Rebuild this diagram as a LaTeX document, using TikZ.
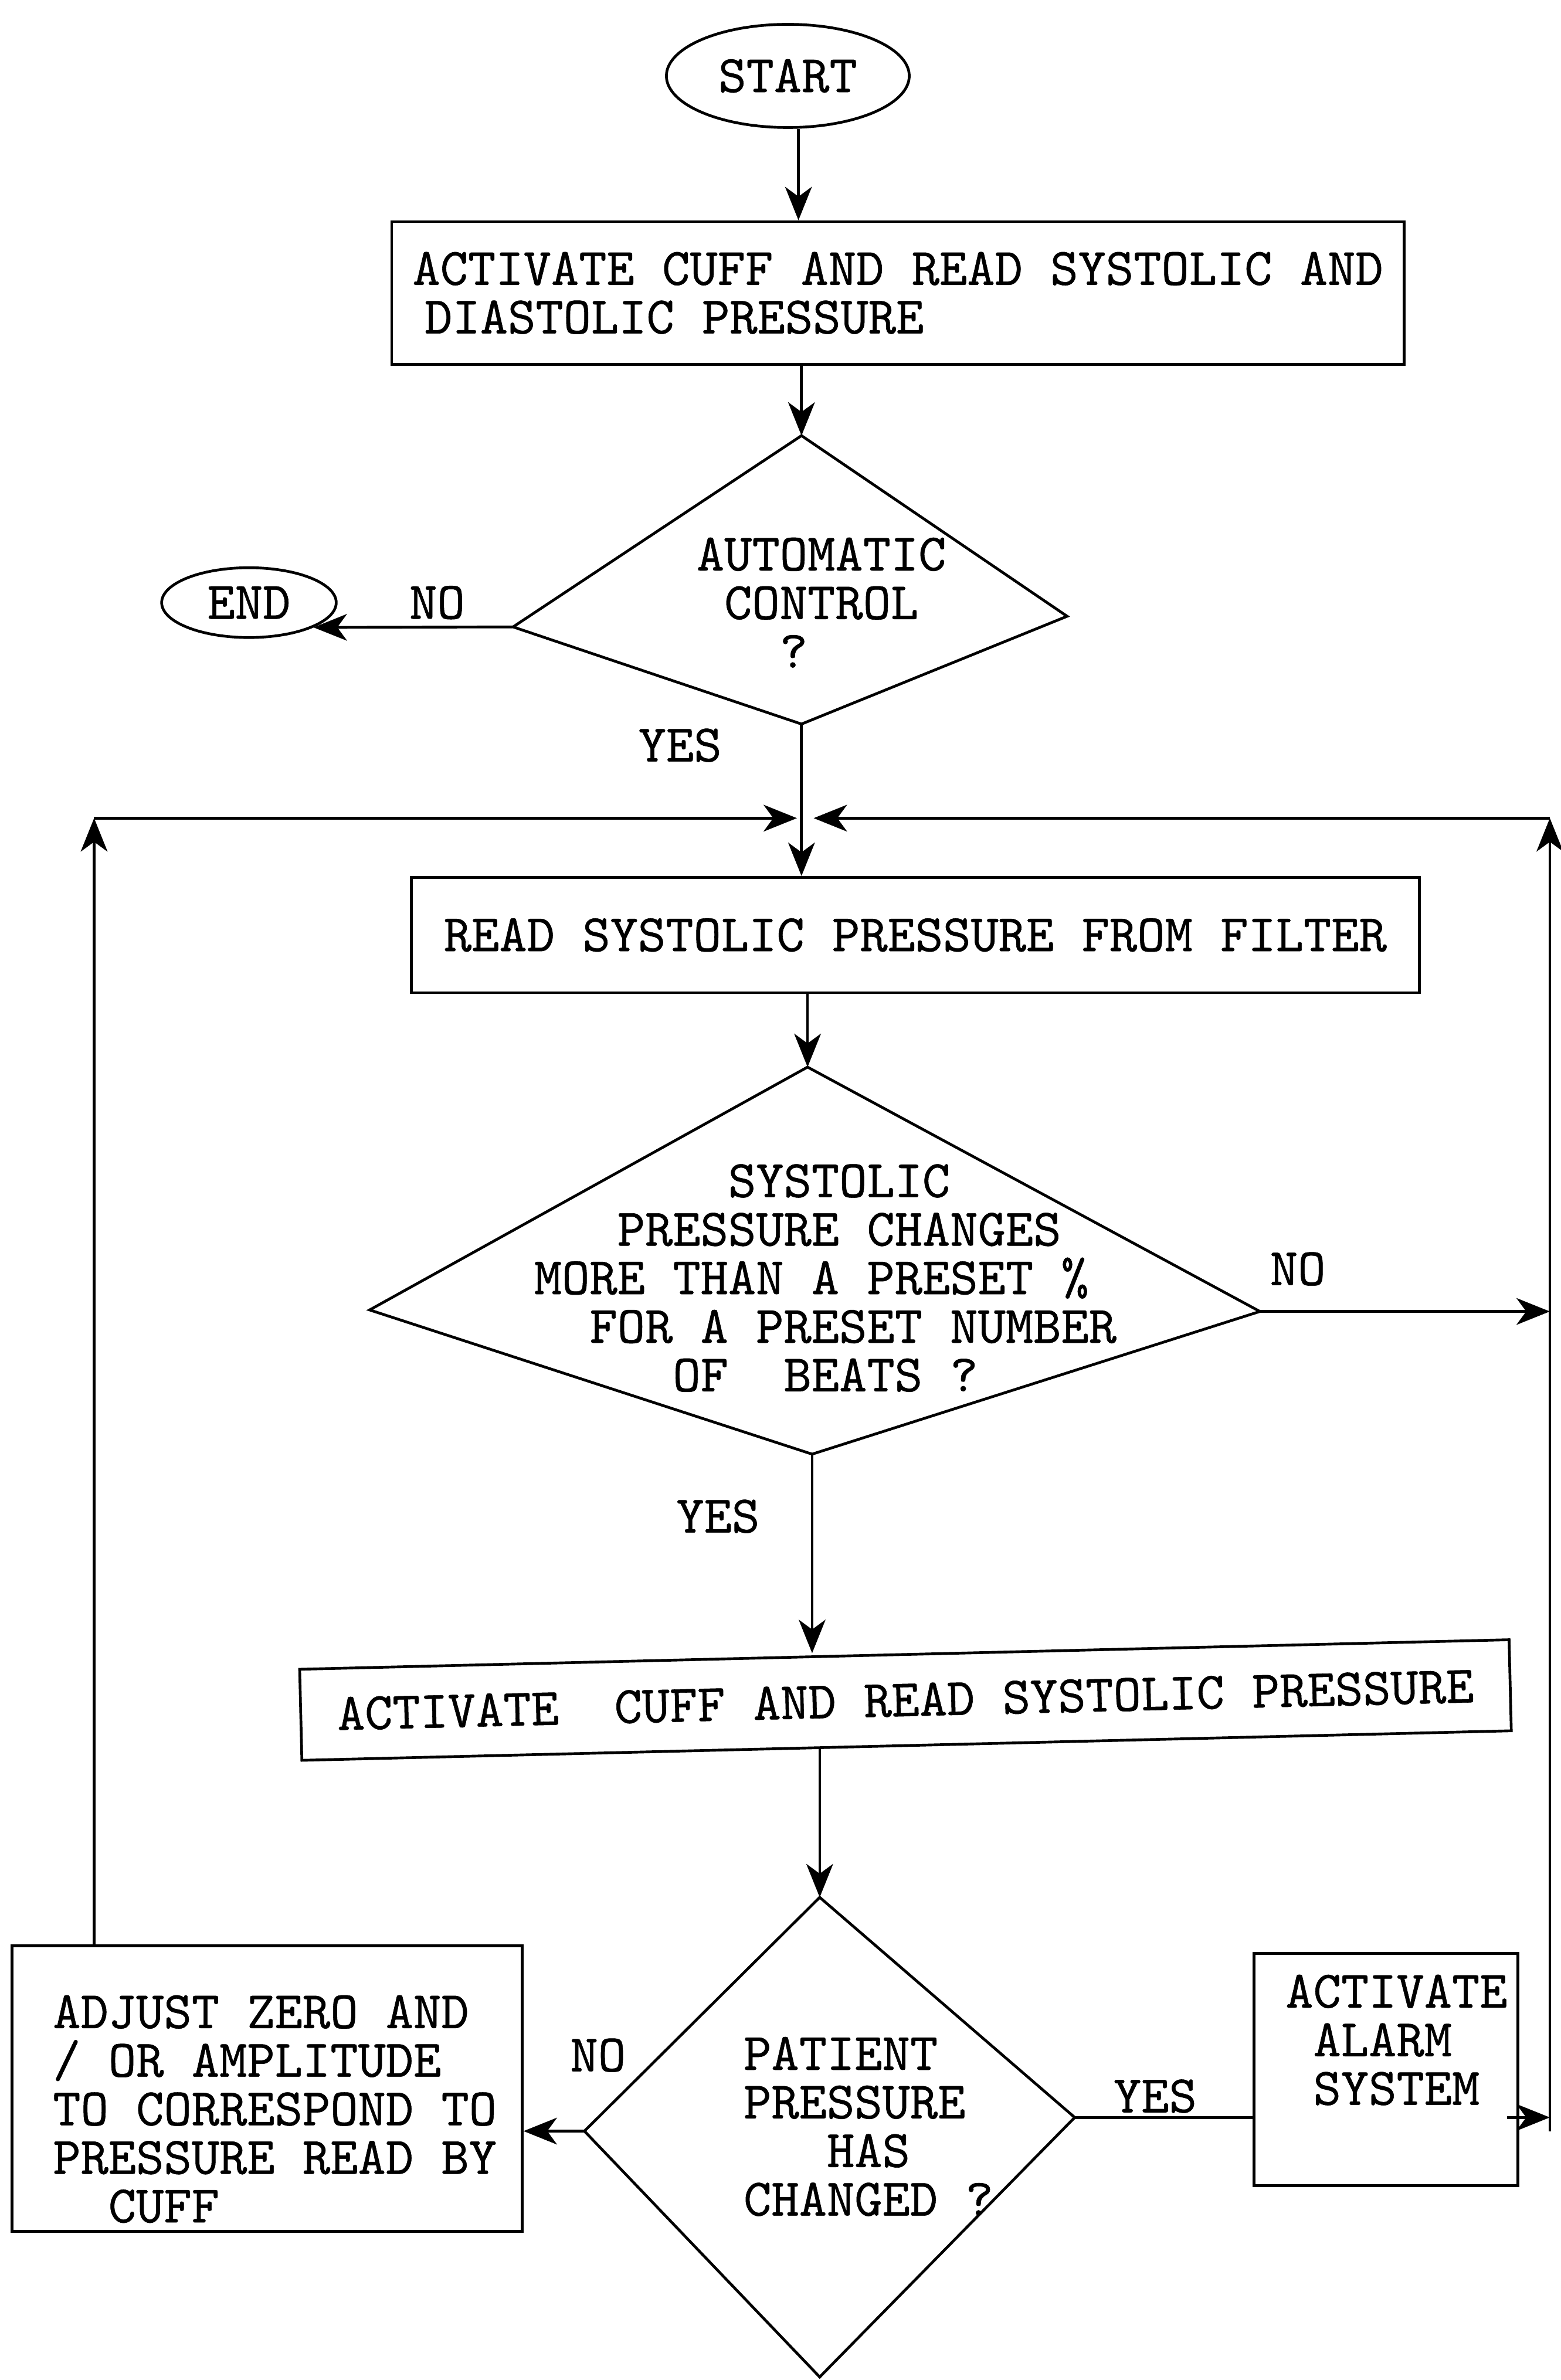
\documentclass[tikz,border=0pt]{standalone}
\usepackage{fontspec}
\usetikzlibrary{arrows.meta,shapes.geometric}
% typewriter face, slightly emboldened
\newfontfamily\tw{lmmono10-regular.otf}[FakeBold=0.6]
\begin{document}
\begin{tikzpicture}[x=0.25pt,y=-0.25pt,
  line width=0.45pt,
  font=\tw\fontsize{8.7pt}{8pt}\selectfont,
  arr/.style={-{Stealth[length=5.5pt,width=4.4pt,inset=1.6pt]}},
  boxnode/.style={draw,rectangle,inner sep=0pt,align=left},
  oval/.style={draw,ellipse,inner sep=0pt},
  txt/.style={inner sep=0pt,align=left},
  lbl/.style={inner sep=0pt}]
\useasboundingbox (0,0) rectangle (1028,1568);

% ---- terminals and process boxes
\node[oval,minimum width=40pt,minimum height=17pt] (start) at (519,50) {START};
\node[oval,minimum width=28.75pt,minimum height=11.5pt] (end) at (164,397) {END};
\node[boxnode,minimum width=166.75pt,minimum height=23.5pt] (box1) at (591.5,193)
  {ACTIVATE CUFF AND READ SYSTOLIC AND\\\hspace*{2pt}DIASTOLIC PRESSURE};
\node[boxnode,minimum width=166pt,minimum height=19pt] (box2) at (603,616)
  {READ SYSTOLIC PRESSURE FROM FILTER};
\node[boxnode,minimum width=199.25pt,minimum height=15pt,rotate=1.4] (box3) at (596.5,1120)
  {ACTIVATE\ \ CUFF AND READ SYSTOLIC PRESSURE};
\node[boxnode,minimum width=84pt,minimum height=47pt] (adj) at (176,1376) {};
\node[txt,anchor=west] (adjt) at (34,1389.5)
  {ADJUST ZERO AND\\/ OR AMPLITUDE\\TO CORRESPOND TO\\PRESSURE READ BY\\\hphantom{XX}CUFF};
\node[boxnode,minimum width=43.5pt,minimum height=38.25pt] (alarm) at (913,1363.5) {};
\node[txt,anchor=west] (alarmt) at (846,1344)
  {ACTIVATE\\\hphantom{X}ALARM\\\hphantom{X}SYSTEM};

% ---- decisions
\coordinate (d1n) at (528,287);  \coordinate (d1w) at (338,413);
\coordinate (d1e) at (703,406);  \coordinate (d1s) at (528,477);
\draw (d1n) -- (d1e) -- (d1s) -- (d1w) -- cycle;
\node[txt,anchor=west] (d1t) at (458,397)
  {AUTOMATIC\\\hphantom{X}CONTROL\\\hphantom{XXX}?};

\coordinate (d2n) at (532,703);  \coordinate (d2w) at (243.5,863);
\coordinate (d2e) at (830,864);  \coordinate (d2s) at (535,958);
\draw (d2n) -- (d2e) -- (d2s) -- (d2w) -- cycle;
\node[txt,anchor=west] (d2t) at (351,842)
  {\hphantom{XXXXXXX}SYSTOLIC\\\hphantom{XXX}PRESSURE CHANGES\\MORE THAN A PRESET \%\\
   \hphantom{XX}FOR A PRESET NUMBER\\\hphantom{XXXXX}OF\ \ BEATS ?};

\coordinate (d3n) at (540,1250); \coordinate (d3w) at (385,1404);
\coordinate (d3e) at (708,1395); \coordinate (d3s) at (540,1566);
\draw (d3n) -- (d3e) -- (d3s) -- (d3w) -- cycle;
\node[txt,anchor=west] (d3t) at (489,1401)
  {PATIENT\\PRESSURE\\\hphantom{XXX}HAS\\CHANGED ?};

% ---- branch labels
\node[lbl] (no1)  at (288,397)  {NO};
\node[lbl] (yes1) at (448,491)  {YES};
\node[lbl] (no2)  at (855,836)  {NO};
\node[lbl] (yes2) at (473,999)  {YES};
\node[lbl] (no3)  at (394,1354) {NO};
\node[lbl] (yes3) at (761,1381) {YES};

% ---- routing points
\coordinate (s0) at (526,0);
\coordinate (jl) at (525,539);
\coordinate (jr) at (536,539);
\coordinate (lc) at (62,539);
\coordinate (rc) at (1021,539);
\coordinate (rb) at (1021,1404);

% ---- connectors
\draw[arr] (start.south -| s0) -- (box1.north -| s0);
\draw[arr] (box1.south -| d1n) -- (d1n);
\draw[arr] (d1w) -- (end.-21);
\draw[arr] (d1s) -- (d1s |- box2.north);
\draw[arr] (lc |- adj.north) -- (lc);
\draw[arr] (lc) -- (jl);
\draw[arr] (rb) -- (rc);
\draw[arr] (rc) -- (jr);
\draw[arr] (box2.south -| d2n) -- (d2n);
\draw[arr] (d2e) -- (d2e -| rc);
\draw[arr] (d2s) -- (d2s |- box3.north);
\draw[arr] (box3.south -| d3n) -- (d3n);
\draw[arr] (d3w) -- (d3w -| adj.east);
\draw (d3e) -- (d3e -| alarm.west);
\draw[arr] ([xshift=-2pt]alarm.east |- d3e) -- (d3e -| rc);
\end{tikzpicture}
\end{document}
